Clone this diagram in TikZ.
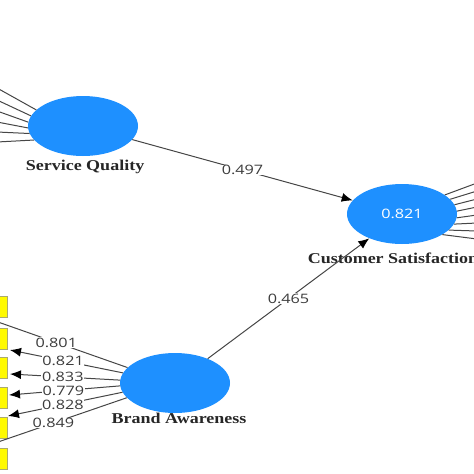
\documentclass[tikz,border=0pt]{standalone}
\usepackage{fontspec}
\usepackage{graphicx}
\setmainfont{Liberation Serif}
\newfontfamily\numfont{Open Sans}
\usetikzlibrary{shapes.geometric,arrows.meta}
\definecolor{lvblue}{RGB}{30,144,255}
\definecolor{linegray}{RGB}{70,70,70}
\definecolor{numgray}{RGB}{60,60,60}
\definecolor{indyellow}{RGB}{255,250,0}
\definecolor{indborder}{RGB}{170,170,110}
\newcommand{\wideName}[1]{\scalebox{1.2}[1]{#1}}
\newcommand{\wideNum}[1]{\scalebox{1.25}[1]{#1}}
\tikzset{
  lv/.style={ellipse, fill=lvblue, minimum width=110pt, minimum height=60pt, inner sep=0pt, text=white, font=\numfont\fontsize{13}{13}\selectfont},
  ind/.style={rectangle, fill=indyellow, draw=indborder, line width=0.8pt, minimum width=27pt, minimum height=21pt, inner sep=0pt},
  link/.style={draw=linegray, line width=1pt},
  arr/.style={link, -{Latex[length=11pt,width=9pt,color=black]}},
  num/.style={fill=white, inner sep=0.6pt, text=numgray, font=\numfont\fontsize{13}{13}\selectfont},
  lvname/.style={anchor=base, inner sep=0pt, text=black!85, font=\bfseries\fontsize{15}{15}\selectfont}
}
\begin{document}
\begin{tikzpicture}[x=1pt,y=-1pt]
\useasboundingbox (0,0) rectangle (474,474);
\clip (0,0) rectangle (474,474);
\fill[white] (0,0) rectangle (474,474);

% indicator boxes (cut by the left edge)
\node[ind] (i1) at (-6.5,306.5) {};
\node[ind] (i2) at (-6.5,338.5) {};
\node[ind] (i3) at (-6.5,368) {};
\node[ind] (i4) at (-6.5,397.5) {};
\node[ind] (i5) at (-6.5,428) {};
\node[ind] (i6) at (-6.5,459) {};

% latent variables
\node[lv] (sq) at (83,126) {};
\node[lv] (cs) at (402,214) {\wideNum{0.821}};
\node[lv] (ba) at (175,383) {};

\node[lvname] (sqlab) at (85,170) {\wideName{Service Quality}};
\node[lvname] (cslab) at (393,263) {\wideName{Customer Satisfaction}};
\node[lvname] (balab) at (179,423) {\wideName{Brand Awareness}};

% service quality indicator lines
\foreach \i/\a/\y in {1/161/88,2/169/100,3/176/111,4/182/122,5/188/132,6/196/142}{
  \coordinate (s\i) at (-3,\y);
  \draw[link] (sq.\a) -- (s\i);
}

% customer satisfaction indicator lines
\foreach \i/\a/\y in {1/24/183,2/17/191,3/10/199,4/3/207,5/-4/215,6/-11/223,7/-19/231,8/-27/239}{
  \coordinate (c\i) at (477,\y);
  \draw[link] (cs.\a) -- (c\i);
}

% brand awareness outer loadings
\coordinate (b1) at (-2,322);
\coordinate (b2) at (10,350);
\coordinate (b3) at (10,374);
\coordinate (b4) at (9,395);
\coordinate (b5) at (8,416);
\coordinate (b6) at (-2,442);
\draw[link] (ba.162) -- node[num,pos=0.55]{\wideNum{0.801}} (b1);
\draw[arr] (ba.169) -- node[num,pos=0.53]{\wideNum{0.821}} (b2);
\draw[arr] (ba.177) -- node[num,pos=0.52]{\wideNum{0.833}} (b3);
\draw[arr] (ba.183) -- node[num,pos=0.51]{\wideNum{0.779}} (b4);
\draw[arr] (ba.190) -- node[num,pos=0.52]{\wideNum{0.828}} (b5);
\draw[link] (ba.197) -- node[num,pos=0.57]{\wideNum{0.849}} (b6);

% structural paths
\draw[arr] (sq) -- node[num]{\wideNum{0.497}} (cs);
\draw[arr] (ba) -- node[num]{\wideNum{0.465}} (cs);
\end{tikzpicture}
\end{document}
